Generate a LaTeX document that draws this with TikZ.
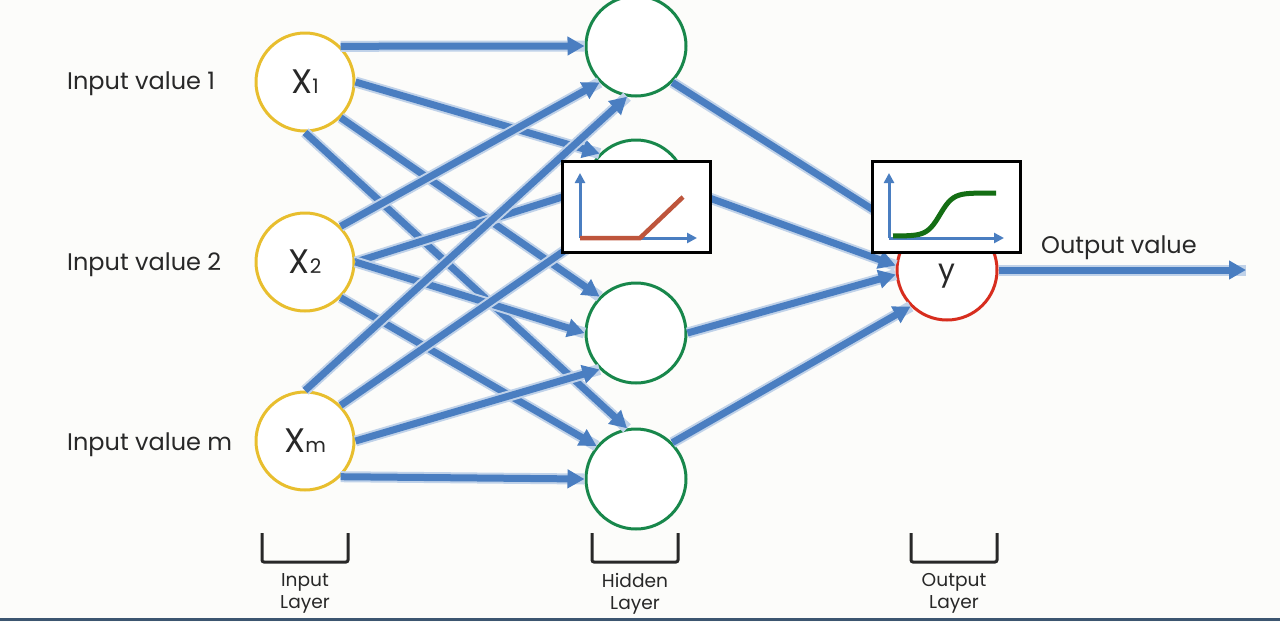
\documentclass[tikz,border=0pt]{standalone}
\usepackage{fontspec}
\setmainfont{Poppins}
\usetikzlibrary{arrows.meta}
\definecolor{edgeblue}{RGB}{74,126,193}
\definecolor{inyellow}{RGB}{232,190,46}
\definecolor{hidgreen}{RGB}{24,135,75}
\definecolor{outred}{RGB}{215,45,30}
\definecolor{relucol}{RGB}{190,85,60}
\definecolor{sigcol}{RGB}{20,110,20}
\definecolor{txtgray}{RGB}{40,40,40}
\definecolor{rulecol}{RGB}{60,85,112}
\definecolor{paper}{RGB}{252,252,250}
\tikzset{>={Triangle[length=17pt,width=18pt]}}
\newcommand{\lsub}[1]{{\fontsize{20}{20}\selectfont #1}}

\begin{document}
\begin{tikzpicture}[x=1pt,y=-1pt,
    inp/.style={circle,draw=inyellow,line width=3pt,fill=white,minimum size=98pt,inner sep=0pt,text=txtgray,font=\fontsize{34}{34}\selectfont},
    hid/.style={circle,draw=hidgreen,line width=3pt,fill=white,minimum size=100pt,inner sep=0pt},
    outp/.style={circle,draw=outred,line width=3pt,fill=white,minimum size=100pt,inner sep=0pt},
    wire/.style={->,draw=edgeblue,line width=7pt,preaction={draw=edgeblue!35,line width=11pt,-}},
    fnbox/.style={draw=black,line width=3pt,fill=white,minimum width=148pt,minimum height=91pt,inner sep=0pt},
    fnaxis/.style={-{Triangle[length=10pt,width=10pt]},draw=edgeblue,line width=3pt},
    invalue/.style={anchor=base west,inner sep=0pt,text=txtgray,font=\fontsize{24}{28}\selectfont},
    layername/.style={anchor=north,align=center,inner sep=0pt,text=txtgray,font=\fontsize{18.6}{22}\selectfont},
    brace/.style={draw=txtgray,line width=3pt,rounded corners=2pt}]
    \fill[paper] (0,0) rectangle (1280,622);
    \useasboundingbox (0,0) rectangle (1280,622);

    % input, hidden and output neurons
    \node[inp] (x1) at (305,82) {X\lsub{1}};
    \node[inp] (x2) at (305,262) {X\lsub{2}};
    \node[inp] (xm) at (305,441) {X\lsub{m}};
    \node[hid] (h1) at (636,46) {};
    \node[hid] (h2) at (636,190) {};
    \node[hid] (h3) at (636,333) {};
    \node[hid] (h4) at (636,479) {};
    \node[outp] (y) at (947,270) {};
    \node[text=txtgray,font=\fontsize{30}{30}\selectfont,inner sep=0pt] (ytext) at (947,276) {y};
    \coordinate (outend) at (1246,270);

    \node[invalue] (in1) at (67,89) {Input value 1};
    \node[invalue] (in2) at (67,270) {Input value 2};
    \node[invalue] (inm) at (67,450) {Input value m};
    \node[invalue] (outval) at (1041,253) {Output value};

    % synapses
    \foreach \a/\b in {x1.45/h1.180, x1.0/h2.135, x1.-45/h3.135, x1.-90/h4.100,
                       x2.45/h1.-135, x2.0/h2.180, x2.0/h3.180, x2.-45/h4.140,
                       xm.90/h1.-100, xm.45/h2.-135, xm.0/h3.-135, xm.-45/h4.180,
                       h1.-45/y.135, h2.0/y.175, h3.0/y.185, h4.45/y.-135}
        \draw[wire] (\a) -- (\b);
    \draw[wire] (y.0) -- (outend);

    % activation functions
    \node[fnbox] (relu) at (636.5,207) {};
    \draw[fnaxis] (580,238) -- (580,173);
    \draw[fnaxis] (580,238) -- (697,238);
    \draw[relucol,line width=4.5pt] (580,238) -- (640,238) -- (683,197);

    \node[fnbox] (sig) at (946,207) {};
    \draw[fnaxis] (889,238) -- (889,173);
    \draw[fnaxis] (889,238) -- (1004,238);
    \draw[sigcol,line width=5pt] plot[domain=893:996,samples=60] (\x,{236-43/(1+exp(-(\x-940)/6.5))});

    % layer brackets
    \foreach \cx/\nm/\txt in {305/ilayer/Input, 635/hlayer/Hidden, 954/olayer/Output} {
        \draw[brace] (\cx-43,533) -- (\cx-43,562) -- (\cx+43,562) -- (\cx+43,533);
        \node[layername] (\nm) at (\cx,573) {\txt\\Layer};
      }

    \draw[rulecol,line width=3pt] (0,619) -- (1280,619);
  \end{tikzpicture}
\end{document}
